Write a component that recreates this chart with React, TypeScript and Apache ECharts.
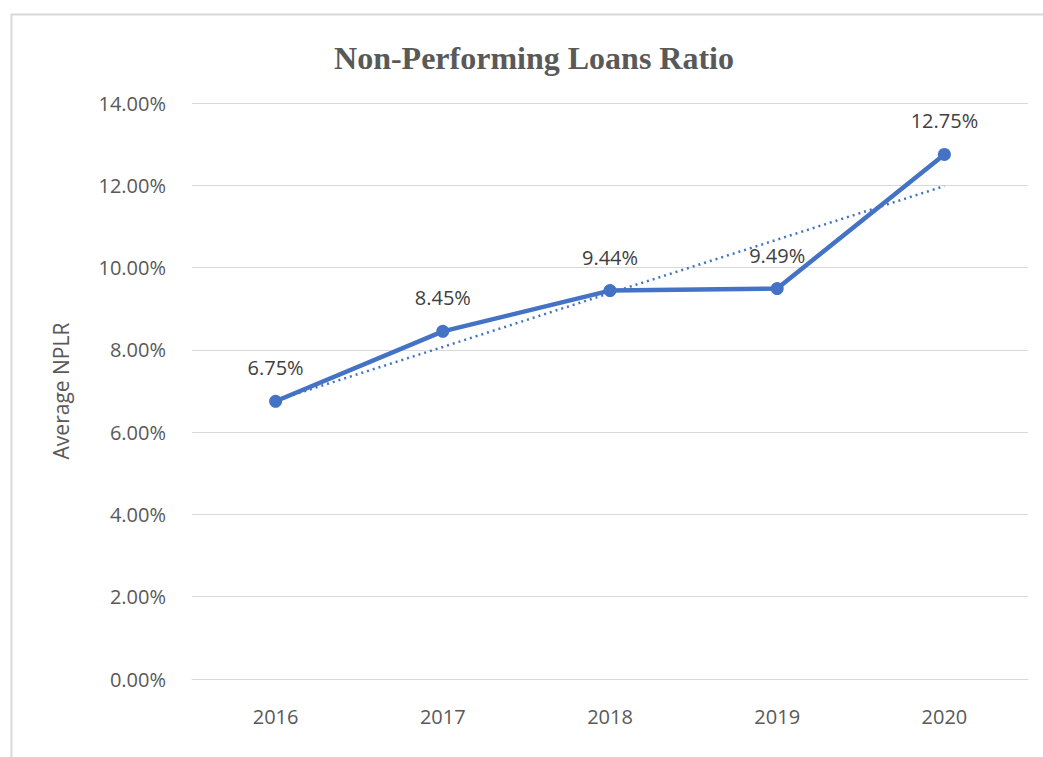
import React, { useEffect, useRef } from "react";
import * as echarts from "echarts";

const categories = ["2016", "2017", "2018", "2019", "2020"];
const nplr = [6.75, 8.45, 9.44, 9.49, 12.75];
// linear trendline (dotted)
const trend = [6.77, 8.07, 9.38, 10.68, 11.98];

export default function App() {
  const ref = useRef<HTMLDivElement>(null);
  useEffect(() => {
    const chart = echarts.init(ref.current!, null, { renderer: "svg" });
    const font = "'Open Sans', 'Noto Sans', sans-serif";
    chart.setOption({
      animation: false,
      backgroundColor: "#ffffff",
      title: {
        text: "Non-Performing Loans Ratio",
        left: 529,
        textAlign: "center",
        top: 37,
        textStyle: {
          fontFamily: "'Liberation Serif', serif",
          fontWeight: "bold",
          fontSize: 32,
          color: "#595959",
        },
      },
      graphic: [
        {
          type: "rect",
          shape: { x: 11.5, y: 14.5, width: 1100, height: 800 },
          style: { fill: "none", stroke: "#d9d9d9", lineWidth: 2 },
          silent: true,
        },
      ],
      grid: { left: 192, right: 15, top: 103, bottom: 78 },
      xAxis: {
        type: "category",
        data: categories,
        boundaryGap: true,
        axisLine: { show: true, lineStyle: { color: "#d9d9d9", width: 1 } },
        axisTick: { show: false },
        axisLabel: {
          margin: 27,
          fontFamily: font,
          fontSize: 20,
          color: "#595959",
        },
      },
      yAxis: {
        type: "value",
        min: 0,
        max: 14,
        interval: 2,
        name: "Average NPLR",
        nameLocation: "middle",
        nameGap: 121,
        nameTextStyle: { fontFamily: font, fontSize: 21, color: "#595959" },
        axisLine: { show: false },
        axisTick: { show: false },
        splitLine: { lineStyle: { color: "#d9d9d9", width: 1 } },
        axisLabel: {
          margin: 26,
          fontFamily: font,
          fontSize: 20,
          color: "#595959",
          formatter: (v: number) => v.toFixed(2) + "%",
        },
      },
      series: [
        {
          type: "line",
          data: trend,
          symbol: "none",
          lineStyle: { color: "#4472C4", width: 2.5, type: [2, 4] },
          z: 1,
          silent: true,
        },
        {
          type: "line",
          data: nplr,
          symbol: "circle",
          symbolSize: 13,
          itemStyle: { color: "#4472C4" },
          lineStyle: { color: "#4472C4", width: 4.5 },
          z: 2,
          label: {
            show: true,
            position: "top",
            distance: 17,
            fontFamily: font,
            fontSize: 20,
            color: "#404040",
            formatter: (p: any) => p.value.toFixed(2) + "%",
          },
        },
      ],
    });
    return () => chart.dispose();
  }, []);
  return (
    <div
      ref={ref}
      style={{ position: "fixed", left: 0, top: 0, width: 1043, height: 757 }}
    />
  );
}
